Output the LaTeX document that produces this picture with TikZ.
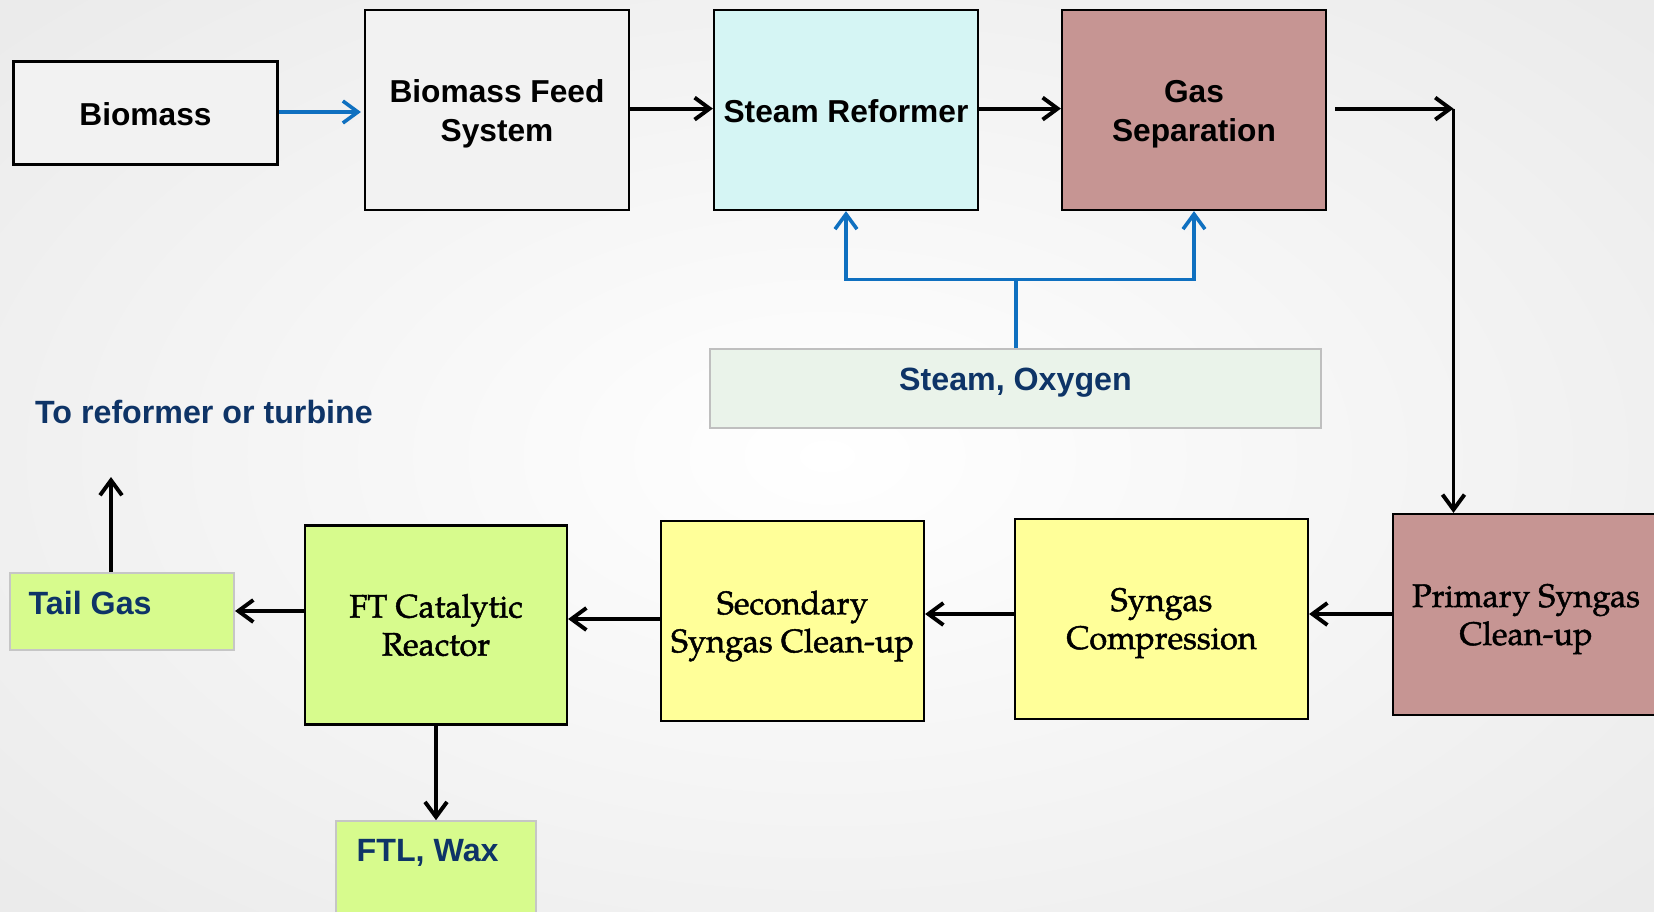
\documentclass[tikz,border=0pt]{standalone}
\usepackage{fontspec}
\setmainfont{TeX Gyre Pagella}
\newfontfamily\palf{TeX Gyre Pagella}[FakeBold=1.5]
\newfontfamily\arialf{Liberation Sans}
\usetikzlibrary{arrows.meta}
\definecolor{grayfill}{HTML}{F2F2F2}
\definecolor{cyanfill}{HTML}{D5F5F4}
\definecolor{rosefill}{HTML}{C69593}
\definecolor{yellowfill}{HTML}{FFFF99}
\definecolor{greenfill}{HTML}{D7FB8D}
\definecolor{paleg}{HTML}{EAF3EA}
\definecolor{navy}{HTML}{0E3467}
\definecolor{flowblue}{HTML}{0F70C0}
\tikzset{
  box/.style={draw=black, line width=2.2pt, inner sep=0pt},
  stext/.style={align=center, inner sep=0pt, font=\arialf\bfseries\fontsize{31.7}{39}\selectfont},
  rtext/.style={align=center, inner sep=0pt, font=\palf\fontsize{32.5}{38}\selectfont},
  lbox/.style={draw=gray!45, line width=1.6pt, fill=greenfill, inner sep=0pt},
  btext/.style={text=navy, font=\arialf\bfseries\fontsize{32.2}{38}\selectfont, inner sep=0pt},
  arr/.style={-{Straight Barb[length=15pt,width=22pt]}, line width=3.9pt},
  barr/.style={-{Straight Barb[length=15pt,width=22pt]}, line width=3.6pt, draw=flowblue},
}
\begin{document}
\begin{tikzpicture}[x=1pt,y=-1pt]
\useasboundingbox (0,0) rectangle (1654,912);
\shade[inner color=white, outer color=gray!16] (-300,-200) rectangle (1954,1112);
% top row
\node[box, fill=grayfill, minimum width=264pt, minimum height=103pt] (bio) at (145.5,113) {};
\node[stext] (biot) at (145.5,114) {Biomass};
\node[box, fill=grayfill, minimum width=264pt, minimum height=200pt] (feed) at (497,110) {};
\node[stext] (feedt) at (497,114) {Biomass Feed\\System};
\node[box, fill=cyanfill, minimum width=264pt, minimum height=200pt] (ref) at (846,110) {};
\node[stext] (reft) at (846,111) {Steam Reformer};
\node[box, fill=rosefill, minimum width=264pt, minimum height=200pt] (gas) at (1194,110) {};
\node[stext] (gast) at (1194,114) {Gas\\Separation};
% steam
\node[draw=gray!50, line width=1.6pt, fill=paleg, minimum width=611pt, minimum height=79pt, inner sep=0pt] (steam) at (1015.5,388.5) {};
\node[btext] (steamt) at (1015.5,383) {Steam, Oxygen};
% bottom row
\node[box, fill=rosefill, minimum width=266pt, minimum height=201pt] (prim) at (1526,614.5) {};
\node[rtext] (primt) at (1526,619) {Primary Syngas\\Clean-up};
\node[box, fill=yellowfill, minimum width=293pt, minimum height=200pt] (comp) at (1161.5,619) {};
\node[rtext] (compt) at (1161.5,623) {Syngas\\Compression};
\node[box, fill=yellowfill, minimum width=263pt, minimum height=200pt] (sec) at (792.5,621) {};
\node[rtext] (sect) at (792.5,626) {Secondary\\Syngas Clean-up};
\node[box, fill=greenfill, minimum width=262pt, minimum height=199pt] (ft) at (436,625) {};
\node[rtext] (ftt) at (436,625) {FT Catalytic\\Reactor};
\node[lbox, minimum width=224.5pt, minimum height=77pt] (tail) at (122,611.5) {};
\node[btext, anchor=west] (tailt) at (28.5,603) {Tail Gas};
\node[lbox, minimum width=200pt, minimum height=110pt] (ftl) at (436,876) {};
\node[btext, anchor=west] (ftlt) at (356.5,853) {FTL, Wax};
\node[btext, anchor=west] (tor) at (35,412) {To reformer or turbine};
% coordinates
\coordinate (corner) at (1453.5,108.6);
\coordinate (tailup) at (111,477);
\coordinate (junc) at (1016,279.5);
% connectors top
\draw[barr] (bio.east |- 0,112) -- ([xshift=-3pt]feed.west |- 0,112);
\draw[arr] (feed.east |- 0,108.6) -- (ref.west |- 0,108.6);
\draw[arr] (ref.east |- 0,108.6) -- (gas.west |- 0,108.6);
\draw[arr] ([xshift=8pt]gas.east |- 0,108.6) -- (corner);
\draw[arr] (corner) -- (corner |- prim.north);
% steam branches
\draw[line width=3.6pt, flowblue] (steam.north -| junc) -- (junc);
\draw[barr] (junc) -| (ref.south);
\draw[barr] (junc) -| (gas.south);
% bottom row connectors
\draw[arr] (prim.west |- 0,614) -- (comp.east |- 0,614);
\draw[arr] (comp.west |- 0,614) -- (sec.east |- 0,614);
\draw[arr] (sec.west |- 0,619) -- (ft.east |- 0,619);
\draw[arr] (ft.west |- 0,611) -- (tail.east |- 0,611);
\draw[arr] (ft.south) -- (ftl.north);
\draw[arr] (tail.north -| tailup) -- (tailup);
\end{tikzpicture}
\end{document}
